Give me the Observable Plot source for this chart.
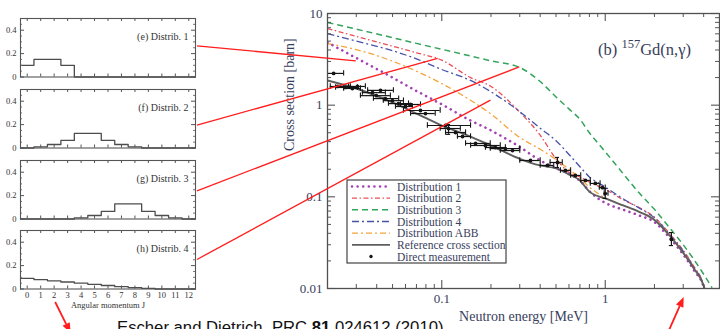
<!DOCTYPE html>
<html>
<head>
<meta charset="utf-8">
<script src="https://cdn.jsdelivr.net/npm/d3@7"></script>
<script src="https://cdn.jsdelivr.net/npm/@observablehq/plot@0.6"></script>
<style>
  html, body { margin: 0; padding: 0; background: #fff; }
  #page { position: relative; width: 720px; height: 329px; overflow: hidden; background: #fff; }
  #page svg { position: absolute; }
</style>
</head>
<body>
<div id="page"></div>
<script>
// ---- spin distributions: probability per angular momentum J ----
const angularMomentum = [0, 1, 2, 3, 4, 5, 6, 7, 8, 9, 10, 11, 12];
const distrib1 = [0.10, 0.15, 0.15, 0.10, 0, 0, 0, 0, 0, 0, 0, 0, 0];
const distrib2 = [0, 0.01, 0.03, 0.065, 0.125, 0.125, 0.065, 0.03, 0.01, 0, 0, 0, 0];
const distrib3 = [0, 0, 0, 0, 0.01, 0.03, 0.065, 0.13, 0.13, 0.065, 0.03, 0.01, 0];
const distrib4 = [0.09, 0.08, 0.07, 0.06, 0.05, 0.04, 0.03, 0.02, 0.012, 0.005, 0, 0, 0];
const panelTitles = ["(e) Distrib. 1", "(f) Distrib. 2", "(g) Distrib. 3", "(h) Distrib. 4"];
const panelYTicks = [0, 0.2, 0.4];
const panelYMinorTicks = [0.05, 0.1, 0.15, 0.25, 0.3, 0.35, 0.45];

// ---- 157Gd(n,γ) capture cross sections [barn] vs neutron energy [MeV] ----
const energy = [0.02, 0.03, 0.05, 0.07, 0.1, 0.15, 0.2, 0.3, 0.4, 0.5, 0.6, 0.7, 0.8, 1.0, 1.3, 1.6, 2.0, 2.5, 3.0, 3.5, 4.0, 4.5];
const sigmaDistrib1 = [4.83, 3.27, 2.0, 1.43, 1.02, 0.68, 0.53, 0.35, 0.249, 0.205, 0.178, 0.15, 0.115, 0.086, 0.072, 0.063, 0.053, 0.035, 0.0235, 0.0157, 0.0104, 0.004];
const sigmaDistrib2 = [6.86, 5.63, 4.40, 3.73, 3.10, 2.0, 1.6, 0.84, 0.47, 0.26, 0.185, 0.165, 0.145, 0.121, 0.092, 0.077, 0.060, 0.039, 0.026, 0.0172, 0.011, 0.0042];
const sigmaDistrib3 = [7.97, 6.75, 5.45, 4.72, 4.07, 3.44, 3.04, 2.58, 1.81, 1.23, 0.91, 0.70, 0.50, 0.31, 0.175, 0.112, 0.073, 0.045, 0.030, 0.0205, 0.0143, 0.0102];
const sigmaDistrib4 = [6.05, 5.0, 3.93, 3.2, 2.45, 1.86, 1.4, 0.85, 0.56, 0.41, 0.29, 0.213, 0.165, 0.128, 0.094, 0.076, 0.059, 0.038, 0.0255, 0.0168, 0.0109, 0.0041];
const sigmaABB = [4.7, 4.04, 3.02, 2.35, 1.72, 1.13, 0.80, 0.444, 0.33, 0.255, 0.20, 0.16, 0.128, 0.097, 0.08, 0.069, 0.057, 0.0365, 0.0245, 0.0163, 0.0107, 0.004];
const sigmaReference = [1.86, 1.52, 1.07, 0.81, 0.60, 0.455, 0.363, 0.26, 0.22, 0.204, 0.176, 0.151, 0.114, 0.096, 0.08, 0.069, 0.056, 0.037, 0.0245, 0.0163, 0.0107, 0.004];
const seriesNames = ["Distribution 1", "Distribution 2", "Distribution 3", "Distribution 4", "Distribution ABB", "Reference cross section", "Direct measurement"];

// direct measurements: energy bins and cross-section uncertainties (null = no bar drawn)
const measEnergy     = [0.0218, 0.0230, 0.0257, 0.0284, 0.0305, 0.0377, 0.0398, 0.0422, 0.0452, 0.0499, 0.0543, 0.060, 0.0644, 0.0741, 0.0795, 0.1054, 0.110, 0.1213, 0.134, 0.161, 0.185, 0.213, 0.245, 0.271, 0.349, 0.443, 0.510, 0.571, 0.657, 0.757, 0.871, 0.962, 1.0, 2.54];
const measEnergyLow  = [0.018, 0.0208, 0.0224, 0.0251, 0.0269, 0.0327, 0.0318, 0.0352, 0.0382, 0.0439, 0.0472, 0.0521, 0.0559, 0.0583, 0.0644, 0.0817, 0.0978, 0.1054, 0.1247, 0.1398, 0.15, 0.185, 0.198, 0.228, 0.30, 0.40, 0.46, 0.532, 0.614, 0.708, 0.81, 0.92, 0.985, 2.54];
const measEnergyHigh = [0.0251, 0.0276, 0.0305, 0.0318, 0.0341, 0.0452, 0.0485, 0.0506, 0.0545, 0.0583, 0.0626, 0.0662, 0.0741, 0.0978, 0.0912, 0.150, 0.1299, 0.1398, 0.150, 0.198, 0.228, 0.245, 0.30, 0.30, 0.40, 0.484, 0.546, 0.614, 0.708, 0.81, 0.93, 1.0, 1.04, 2.54];
const measSigma      = [2.22, 1.60, 1.56, 1.52, 1.60, 1.37, 1.27, 1.45, 1.18, 1.12, 1.04, 0.967, 1.017, 0.875, 0.81, 0.60, 0.556, 0.503, 0.455, 0.382, 0.363, 0.345, 0.336, 0.32, 0.249, 0.22, 0.237, 0.194, 0.171, 0.151, 0.14, 0.126, 0.1086, 0.0343];
const measSigmaLow   = [null, null, null, null, null, null, null, null, null, null, null, null, null, null, null, null, 0.48, null, null, null, null, null, null, null, null, null, 0.209, null, null, null, null, null, 0.096, 0.0294];
const measSigmaHigh  = [null, null, null, null, null, null, null, null, null, null, null, null, null, null, null, null, 0.615, null, null, null, null, null, null, null, null, null, 0.269, null, null, null, null, null, 0.123, 0.0408];

const energyTicks = [0.1, 1];
const energyMinorTicks = [0.02, 0.03, 0.04, 0.05, 0.06, 0.07, 0.08, 0.09, 0.2, 0.3, 0.4, 0.5, 0.6, 0.7, 0.8, 0.9, 2, 3, 4];
const sigmaTicks = [0.01, 0.1, 1, 10];
const sigmaMinorTicks = [0.02, 0.03, 0.04, 0.05, 0.06, 0.07, 0.08, 0.09, 0.2, 0.3, 0.4, 0.5, 0.6, 0.7, 0.8, 0.9, 2, 3, 4, 5, 6, 7, 8, 9];

// connectors from each spin panel to the curve it produces
const connectorPanelLevel = [0.262, 0.188, 0.232, 0.244];
const connectorEnergy = [0.03, 0.095, 0.3, 0.2];
const connectorSigma = [3.0, 3.2, 2.58, 1.12];

// ---------------------------------------------------------------
const page = document.getElementById("page");
const serif = "'Liberation Serif', 'Times New Roman', serif";
const panelInk = "#333";
const mainInk = "#383e5c";

// ---- left column: four spin-distribution histograms ----
const panelDists = [distrib1, distrib2, distrib3, distrib4];
const panelFrameTops = [18, 88.5, 159.5, 229.5];
const PANEL = {width: 200, left: 20, right: 5, frame: 58.5, top: 2};

const panels = panelDists.map((dist, i) => {
  const last = i === panelDists.length - 1;
  const bottom = last ? 26 : 2;
  const fw = PANEL.width - PANEL.left - PANEL.right;
  const fh = PANEL.frame;
  const steps = angularMomentum.map((j, k) => ({j: j - 0.5, p: dist[k]}));
  steps.push({j: angularMomentum[angularMomentum.length - 1] + 0.5, p: dist[dist.length - 1]});
  const chart = Plot.plot({
    width: PANEL.width,
    height: fh + PANEL.top + bottom,
    marginLeft: PANEL.left, marginRight: PANEL.right,
    marginTop: PANEL.top, marginBottom: bottom,
    x: {domain: [-0.5, 12.5], axis: null},
    y: {domain: [0, 0.5], axis: null},
    style: {fontFamily: serif, fontSize: "8.5px", color: panelInk, background: "transparent", overflow: "visible"},
    marks: [
      Plot.line(steps, {x: "j", y: "p", curve: "step-after", stroke: "#4d4d4d", strokeWidth: 1.3}),
      Plot.ruleX(angularMomentum, {insetTop: fh - 3, stroke: "#555"}),
      Plot.ruleX(angularMomentum, {insetBottom: fh - 3, stroke: "#555"}),
      Plot.ruleY(panelYTicks, {insetRight: fw - 4, stroke: "#555"}),
      Plot.ruleY(panelYTicks, {insetLeft: fw - 4, stroke: "#555"}),
      Plot.ruleY(panelYMinorTicks, {insetRight: fw - 2, stroke: "#777"}),
      Plot.ruleY(panelYMinorTicks, {insetLeft: fw - 2, stroke: "#777"}),
      Plot.frame({stroke: "#555", strokeWidth: 1.1}),
      Plot.text(panelYTicks, {y: d => d, text: d => d === 0 ? "0" : d.toFixed(1), frameAnchor: "left", dx: -4, textAnchor: "end", fontSize: 8.5}),
      Plot.text([panelTitles[i]], {frameAnchor: "top-right", dx: -7, dy: 14, fontSize: 10}),
      ...(last ? [
        Plot.text(angularMomentum, {x: d => d, text: d => String(d), frameAnchor: "bottom", dy: 8.5, fontSize: 8.5}),
        Plot.text(["Angular momentum J"], {frameAnchor: "bottom", dy: 18.5, fontSize: 8.5})
      ] : [])
    ]
  });
  chart.style.left = "0px";
  chart.style.top = (panelFrameTops[i] - PANEL.top) + "px";
  page.appendChild(chart);
  return chart;
});

// ---- right: cross section panel (b) ----
const MAIN = {left: 270, top: 0, width: 450, height: 329, ml: 57, mr: 1, mt: 13, mb: 41};
const mfw = MAIN.width - MAIN.ml - MAIN.mr;
const mfh = MAIN.height - MAIN.mt - MAIN.mb;

const styles = {
  "Distribution 1": {stroke: "#a43fb4", dash: "0.01,5.6", width: 2.6, cap: "round"},
  "Distribution 2": {stroke: "#ea4f57", dash: "5,2.5,1.5,2.5", width: 1.3, cap: "butt"},
  "Distribution 3": {stroke: "#34a35b", dash: "6,4", width: 1.5, cap: "butt"},
  "Distribution 4": {stroke: "#4752a8", dash: "7,3,2,3", width: 1.3, cap: "butt"},
  "Distribution ABB": {stroke: "#f3a43c", dash: "6,3,2,3", width: 1.3, cap: "butt"},
  "Reference cross section": {stroke: "#5f5f5f", dash: null, width: 1.9, cap: "butt"}
};
const curveValues = {
  "Distribution 3": sigmaDistrib3,
  "Distribution 2": sigmaDistrib2,
  "Distribution 4": sigmaDistrib4,
  "Distribution ABB": sigmaABB,
  "Distribution 1": sigmaDistrib1,
  "Reference cross section": sigmaReference
};
const curveMarks = Object.entries(curveValues).map(([name, values]) => {
  const s = styles[name];
  const rows = energy.map((e, i) => ({e, v: values[i]}));
  return Plot.line(rows, {
    x: "e", y: "v", curve: "monotone-x", clip: true,
    stroke: s.stroke, strokeWidth: s.width, strokeDasharray: s.dash, strokeLinecap: s.cap
  });
});

const measurements = measEnergy.map((e, i) => ({
  e, lo: measEnergyLow[i], hi: measEnergyHigh[i],
  s: measSigma[i], slo: measSigmaLow[i], shi: measSigmaHigh[i]
}));
const energyBars = measurements.filter(d => d.hi > d.lo);
const sigmaBars = measurements.filter(d => d.slo != null);
const barInk = "#151515";

const main = Plot.plot({
  width: MAIN.width, height: MAIN.height,
  marginLeft: MAIN.ml, marginRight: MAIN.mr, marginTop: MAIN.mt, marginBottom: MAIN.mb,
  x: {type: "log", domain: [0.02, 5], axis: null},
  y: {type: "log", domain: [0.01, 10], axis: null},
  style: {fontFamily: serif, fontSize: "13px", color: mainInk, background: "transparent", overflow: "visible"},
  marks: [
    ...curveMarks,
    // energy-bin bars with end caps
    Plot.ruleY(energyBars, {y: "s", x1: "lo", x2: "hi", stroke: barInk, strokeWidth: 1.2, clip: true}),
    Plot.ruleX(energyBars, {x: "lo", y1: d => d.s / 1.07, y2: d => d.s * 1.07, stroke: barInk, strokeWidth: 1.1, clip: true}),
    Plot.ruleX(energyBars, {x: "hi", y1: d => d.s / 1.07, y2: d => d.s * 1.07, stroke: barInk, strokeWidth: 1.1, clip: true}),
    // cross-section uncertainties
    Plot.ruleX(sigmaBars, {x: "e", y1: "slo", y2: "shi", stroke: barInk, strokeWidth: 1.2}),
    Plot.ruleY(sigmaBars, {y: "slo", x1: d => d.e / 1.03, x2: d => d.e * 1.03, stroke: barInk, strokeWidth: 1.1}),
    Plot.ruleY(sigmaBars, {y: "shi", x1: d => d.e / 1.03, x2: d => d.e * 1.03, stroke: barInk, strokeWidth: 1.1}),
    Plot.dot(measurements, {x: "e", y: "s", r: 1.9, fill: barInk, stroke: null}),
    // inward ticks on all four sides
    Plot.ruleX(energyTicks, {insetTop: mfh - 8, stroke: "#555", strokeWidth: 1.1}),
    Plot.ruleX(energyTicks, {insetBottom: mfh - 8, stroke: "#555", strokeWidth: 1.1}),
    Plot.ruleX(energyMinorTicks, {insetTop: mfh - 4, stroke: "#555"}),
    Plot.ruleX(energyMinorTicks, {insetBottom: mfh - 4, stroke: "#555"}),
    Plot.ruleY(sigmaTicks, {insetRight: mfw - 8, stroke: "#555", strokeWidth: 1.1}),
    Plot.ruleY(sigmaTicks, {insetLeft: mfw - 8, stroke: "#555", strokeWidth: 1.1}),
    Plot.ruleY(sigmaMinorTicks, {insetRight: mfw - 4, stroke: "#555"}),
    Plot.ruleY(sigmaMinorTicks, {insetLeft: mfw - 4, stroke: "#555"}),
    Plot.frame({stroke: "#505050", strokeWidth: 1.3}),
    Plot.text(sigmaTicks, {y: d => d, text: d => String(d), frameAnchor: "left", dx: -5, textAnchor: "end", fontSize: 13}),
    Plot.text(energyTicks, {x: d => d, text: d => String(d), frameAnchor: "bottom", dy: 14, fontSize: 13}),
    Plot.text(["Cross section [barn]"], {frameAnchor: "left", dx: -38, rotate: -90, fontSize: 14}),
    Plot.text(["Neutron energy [MeV]"], {frameAnchor: "bottom", dy: 32.5, fontSize: 14})
  ]
});
main.style.left = MAIN.left + "px";
main.style.top = MAIN.top + "px";
page.appendChild(main);

const msvg = d3.select(main);

// panel title (b) 157Gd(n,γ)
const title = msvg.append("text")
  .attr("x", 328).attr("y", 55)
  .attr("text-anchor", "start")
  .attr("font-family", serif).attr("font-size", 16.5).attr("fill", mainInk);
title.append("tspan").text("(b) ");
title.append("tspan").attr("font-size", 12.5).attr("dy", -7).text("157");
title.append("tspan").attr("dy", 7).text("Gd(n,γ)");

// legend
const lg = {x: 77, y: 180, w: 159, h: 83, row: 11.67};
const legend = msvg.append("g")
  .attr("font-family", serif).attr("font-size", 11.5).attr("fill", mainInk)
  .attr("text-anchor", "start");
legend.append("rect")
  .attr("x", lg.x).attr("y", lg.y).attr("width", lg.w).attr("height", lg.h)
  .attr("fill", "white").attr("stroke", "#444").attr("stroke-width", 1.2);
seriesNames.forEach((name, k) => {
  const cy = lg.y + 6.5 + k * lg.row;
  const s = styles[name];
  if (s) {
    legend.append("line")
      .attr("x1", lg.x + 5).attr("x2", lg.x + 43).attr("y1", cy).attr("y2", cy)
      .attr("stroke", s.stroke).attr("stroke-width", s.width)
      .attr("stroke-dasharray", s.dash).attr("stroke-linecap", s.cap);
  } else {
    legend.append("circle").attr("cx", lg.x + 24).attr("cy", cy).attr("r", 1.7).attr("fill", barInk);
  }
  legend.append("text").attr("x", lg.x + 50).attr("y", cy).attr("dy", "0.35em")
    .attr("text-anchor", "start").text(name);
});

// ---- overlay: connectors, arrows and citation ----
const overlay = d3.create("svg")
  .attr("width", 720).attr("height", 329)
  .style("left", "0px").style("top", "0px").style("pointer-events", "none");
page.appendChild(overlay.node());

const red = "#ff1d1d";
const mx = main.scale("x"), my = main.scale("y");
panels.forEach((p, i) => {
  const px = p.scale("x").apply(12.5) + 2;
  const py = panelFrameTops[i] - PANEL.top + p.scale("y").apply(connectorPanelLevel[i]);
  const tx = MAIN.left + mx.apply(connectorEnergy[i]);
  const ty = MAIN.top + my.apply(connectorSigma[i]);
  overlay.append("line").attr("x1", px).attr("y1", py).attr("x2", tx).attr("y2", ty)
    .attr("stroke", red).attr("stroke-width", 1.3);
});

function arrow(x1, y1, x2, y2) {
  const a = Math.atan2(y2 - y1, x2 - x1), L = 10, hw = 4;
  const bx = x2 - L * Math.cos(a), by = y2 - L * Math.sin(a);
  overlay.append("line").attr("x1", x1).attr("y1", y1).attr("x2", bx).attr("y2", by)
    .attr("stroke", red).attr("stroke-width", 1.8);
  overlay.append("path")
    .attr("d", `M${x2},${y2}L${bx + hw * Math.sin(a)},${by - hw * Math.cos(a)}L${bx - hw * Math.sin(a)},${by + hw * Math.cos(a)}Z`)
    .attr("fill", red);
}
// from the J = 2 label downward, and up to the 3 MeV tick
const hScale = panels[3].scale("x");
arrow(hScale.apply(2) + 1.5, 302, hScale.apply(2) + 17, 333);
const t3 = MAIN.left + mx.apply(3);
arrow(t3 - 15, 333, t3 + 1, 297);

const cite = overlay.append("text")
  .attr("x", 117).attr("y", 333)
  .attr("font-family", "'Liberation Sans', Arial, sans-serif").attr("font-size", 16.7).attr("fill", "#111");
cite.append("tspan").text("Escher and Dietrich, PRC ");
cite.append("tspan").attr("font-weight", "bold").text("81");
cite.append("tspan").text(" 024612 (2010)");
</script>
</body>
</html>
